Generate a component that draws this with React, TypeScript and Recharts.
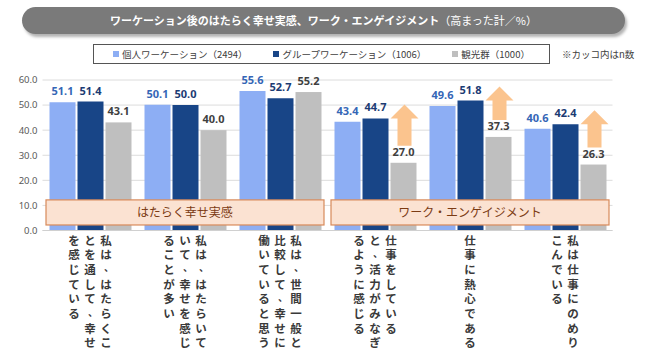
import React from 'react';
import { BarChart, Bar, XAxis, YAxis, CartesianGrid, LabelList, ReferenceArea } from 'recharts';

const categories = [
  '私は、はたらくこ\nとを通して、幸せ\nを感じている',
  '私は、はたらいて\nいて、幸せを感じ\nることが多い',
  '私は、世間一般と\n比較して、幸せに\n働いていると思う',
  '仕事をしている\nと、活力がみなぎ\nるように感じる',
  '仕事に熱心である',
  '私は仕事にのめり\nこんでいる',
];
const soloValues = [51.1, 50.1, 55.6, 43.4, 49.6, 40.6];
const groupValues = [51.4, 50.0, 52.7, 44.7, 51.8, 42.4];
const tourismValues = [43.1, 40.0, 55.2, 27.0, 37.3, 26.3];
const arrowFlags = [false, false, false, true, true, true];
const seriesNames = ['個人ワーケーション（2494）', 'グループワーケーション（1006）', '観光群（1000）'];
const seriesColors = ['#8daef4', '#184587', '#bfbfbf'];
const labelColors = ['#3566b6', '#1c3b73', '#3f3f3f'];
const yTicks = [0, 10, 20, 30, 40, 50, 60];
const bandLabels = ['はたらく幸せ実感', 'ワーク・エンゲイジメント'];
const titleMain = 'ワーケーション後のはたらく幸せ実感、ワーク・エンゲイジメント';
const titleSub = '（高まった計／%）';
const note = '※カッコ内はn数';

const data = categories.map((cat, i) => ({
  cat,
  solo: soloValues[i],
  group: groupValues[i],
  tourism: tourismValues[i],
  arrow: arrowFlags[i],
}));

const CJK = "'Noto Sans CJK JP', 'Noto Sans', sans-serif";
const NUM = "'Noto Sans', 'DejaVu Sans', sans-serif";

const VerticalTick = (props: any) => {
  const { x, y, payload } = props;
  const cols = String(payload.value).split('\n');
  const n = cols.length;
  const out: any[] = [];
  cols.forEach((col, i) => {
    const cx = x + ((n - 1) / 2 - i) * 16;
    Array.from(col).forEach((ch, j) => {
      const cy = y + 9 + j * 14.7;
      const punct = ch === '、';
      out.push(
        <text
          key={`${i}-${j}`}
          x={punct ? cx + 3 : cx}
          y={punct ? cy - 2 : cy}
          textAnchor="middle"
          dominantBaseline="central"
          fontSize={punct ? 10 : 11.5}
          fontWeight="bold"
          fill="#3a3a3a"
          fontFamily={CJK}
        >
          {ch}
        </text>
      );
    });
  });
  return <g>{out}</g>;
};

const TourismShape = (props: any) => {
  const { x, y, width, height, fill, payload } = props;
  let arrow = null;
  if (payload && payload.arrow && height > 0) {
    const pxPerUnit = height / payload.tourism;
    const darkTop = y + height - payload.group * pxPerUnit;
    const cx = x + width / 2 + 1;
    const tip = darkTop - 14;
    const headBase = tip + 14;
    const bottom = y - 17;
    const d = `M${cx},${tip} L${cx + 14},${headBase} L${cx + 7},${headBase} L${cx + 7},${bottom} L${cx - 7},${bottom} L${cx - 7},${headBase} L${cx - 14},${headBase} Z`;
    arrow = <path d={d} fill="#fbc48e" />;
  }
  return (
    <g>
      <rect x={x} y={y} width={width} height={height} fill={fill} />
      {arrow}
    </g>
  );
};

const BandShape = (props: any) => {
  const { x, y, width, height } = props;
  return (
    <rect
      x={x + 3.5}
      y={y}
      width={width - 7}
      height={height}
      fill="#fbe2d2"
      stroke="#d88a5a"
      strokeWidth={1.2}
    />
  );
};

const fmt = (v: any) => Number(v).toFixed(1);

export default function App() {
  return (
    <div style={{ position: 'absolute', left: 0, top: 0, width: 647, height: 362, background: '#fff', overflow: 'hidden' }}>
      <div style={{ position: 'absolute', left: 0, top: 0 }}>
        <BarChart
          width={647}
          height={362}
          data={data}
          margin={{ top: 80, right: 34.5, bottom: 11.5, left: 0.5 }}
          barSize={26}
          barGap={2}
        >
          <CartesianGrid vertical={false} stroke="#dcdcdc" />
          <XAxis
            dataKey="cat"
            height={120}
            interval={0}
            tickLine={false}
            tickSize={0}
            tickMargin={0}
            axisLine={{ stroke: '#d0d0d0' }}
            tick={<VerticalTick />}
          />
          <YAxis
            width={42}
            domain={[0, 60]}
            ticks={yTicks}
            tickFormatter={fmt}
            axisLine={false}
            tickLine={false}
            tickSize={0}
            tickMargin={5}
            tick={{ fontSize: 9.5, fill: '#595959', fontFamily: NUM }}
          />
          <Bar dataKey="solo" name={seriesNames[0]} fill={seriesColors[0]} isAnimationActive={false}>
            <LabelList dataKey="solo" position="top" offset={7} formatter={fmt} fill={labelColors[0]} fontSize={11} fontWeight="bold" fontFamily={NUM} />
          </Bar>
          <Bar dataKey="group" name={seriesNames[1]} fill={seriesColors[1]} isAnimationActive={false}>
            <LabelList dataKey="group" position="top" offset={7} formatter={fmt} fill={labelColors[1]} fontSize={11} fontWeight="bold" fontFamily={NUM} />
          </Bar>
          <Bar dataKey="tourism" name={seriesNames[2]} fill={seriesColors[2]} shape={<TourismShape />} isAnimationActive={false}>
            <LabelList dataKey="tourism" position="top" offset={7} formatter={fmt} fill={labelColors[2]} fontSize={11} fontWeight="bold" fontFamily={NUM} />
          </Bar>
          <ReferenceArea
            {...({ zIndex: 1500 } as any)}
            x1={categories[0]}
            x2={categories[2]}
            y1={2.2}
            y2={12.2}
            shape={<BandShape />}
            label={{ value: bandLabels[0], position: 'center', fill: '#7b3b14', fontSize: 12, fontFamily: CJK }}
          />
          <ReferenceArea
            {...({ zIndex: 1500 } as any)}
            x1={categories[3]}
            x2={categories[5]}
            y1={2.2}
            y2={12.2}
            shape={<BandShape />}
            label={{ value: bandLabels[1], position: 'center', fill: '#7b3b14', fontSize: 12, fontFamily: CJK }}
          />
        </BarChart>
      </div>
      <div
        style={{
          position: 'absolute',
          left: 22,
          top: 7,
          width: 603,
          height: 27,
          borderRadius: 13.5,
          background: '#7a7a7a',
          boxShadow: '2px 3px 3px rgba(0,0,0,0.3)',
          color: '#fff',
          fontFamily: CJK,
          fontSize: 11,
          lineHeight: '27px',
          textAlign: 'center',
          whiteSpace: 'nowrap',
        }}
      >
        <span style={{ fontWeight: 'bold' }}>{titleMain}</span>
        <span>{titleSub}</span>
      </div>
      <div
        style={{
          position: 'absolute',
          left: 93,
          top: 44,
          width: 455,
          height: 18,
          border: '1px solid #555',
          display: 'flex',
          alignItems: 'center',
          justifyContent: 'center',
          gap: 26,
          fontFamily: CJK,
          fontSize: 9.5,
          color: '#404040',
          whiteSpace: 'nowrap',
        }}
      >
        {seriesNames.map((n, i) => (
          <span key={n} style={{ display: 'flex', alignItems: 'center' }}>
            <span style={{ display: 'inline-block', width: 6, height: 6, background: seriesColors[i], marginRight: 3 }} />
            {n}
          </span>
        ))}
      </div>
      <div
        style={{
          position: 'absolute',
          left: 562,
          top: 46,
          fontFamily: CJK,
          fontSize: 9.5,
          lineHeight: '16px',
          color: '#404040',
          whiteSpace: 'nowrap',
        }}
      >
        {note}
      </div>
    </div>
  );
}
